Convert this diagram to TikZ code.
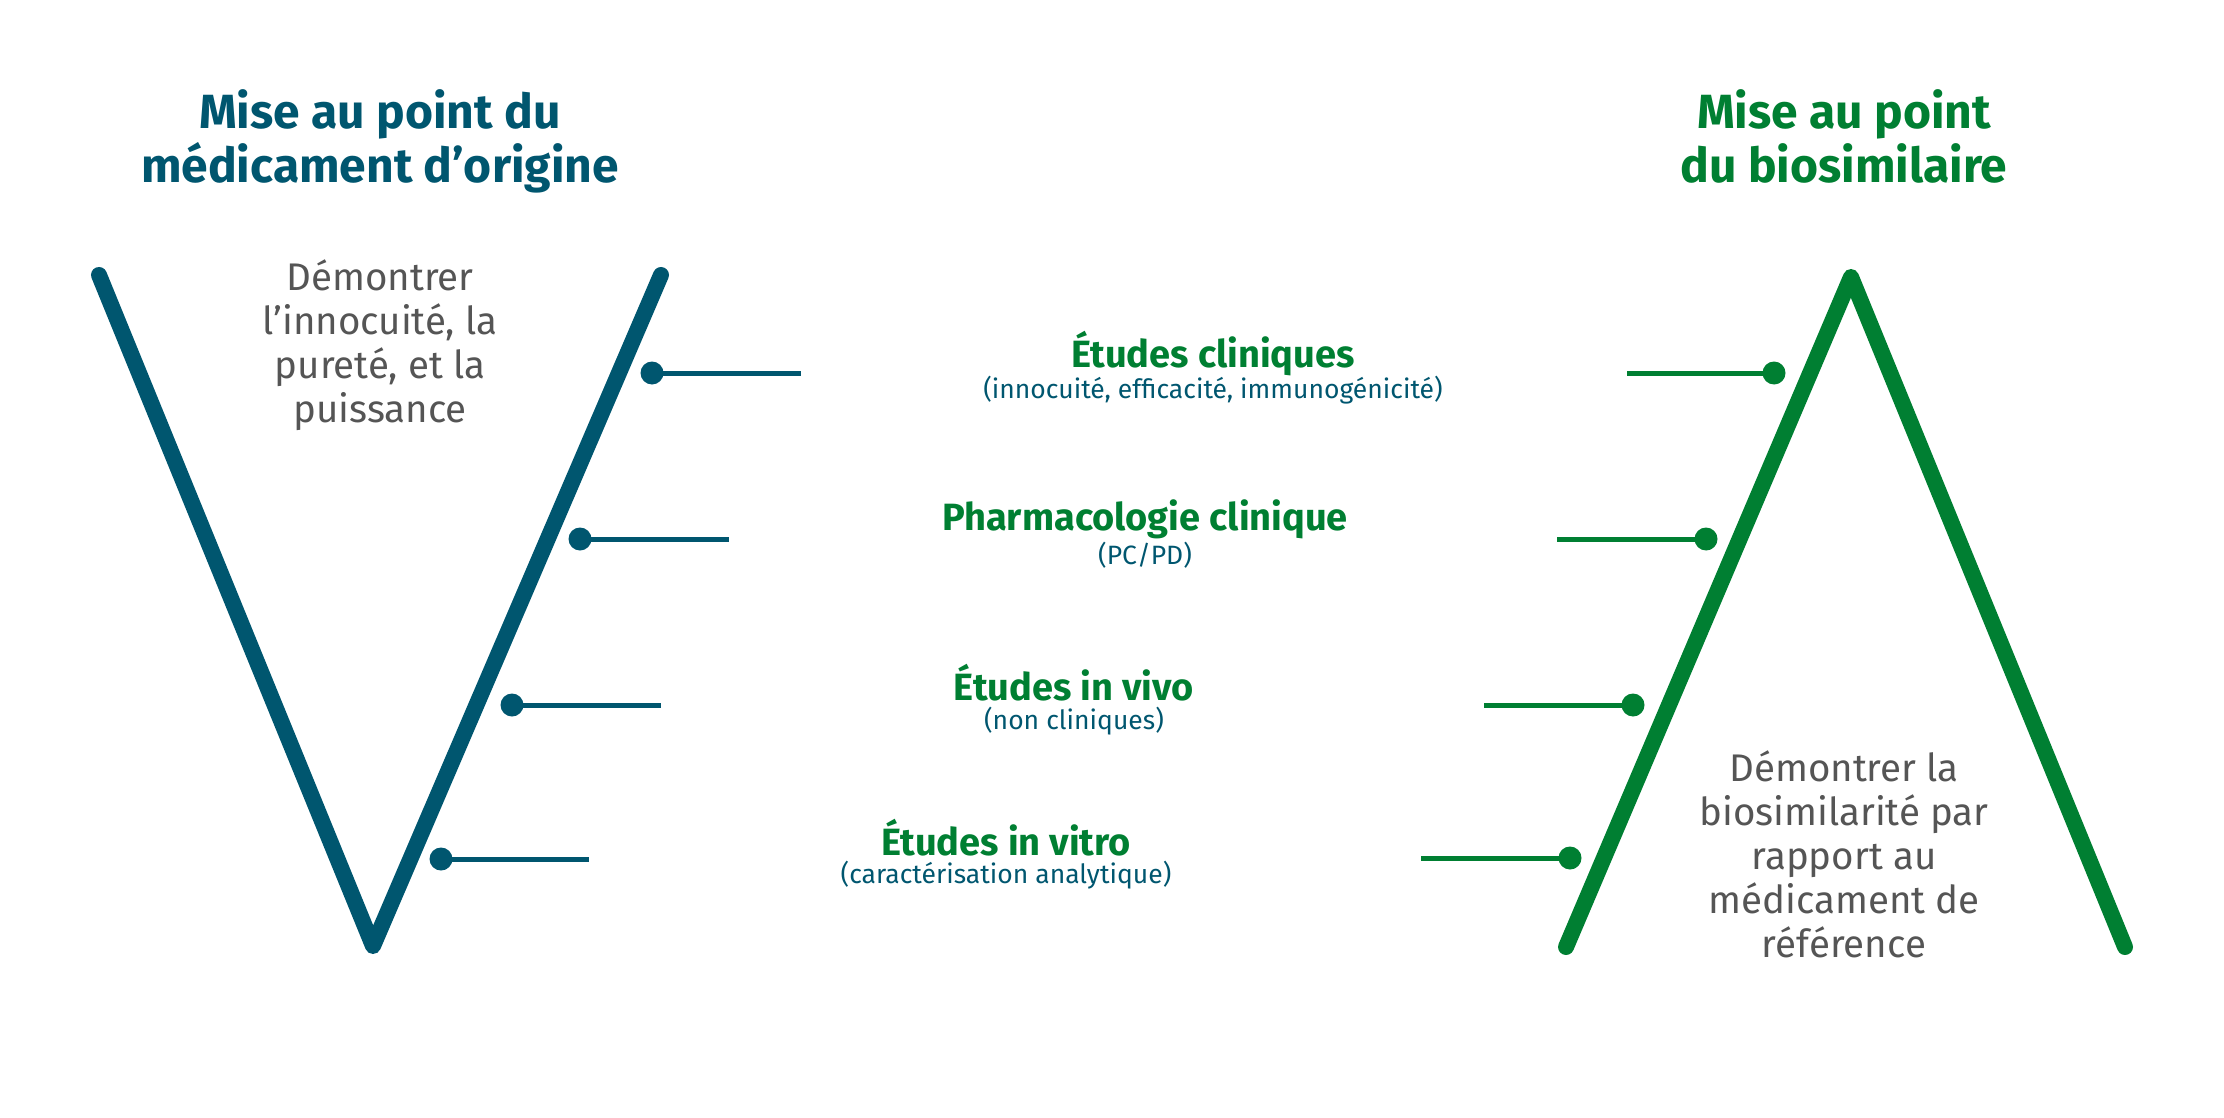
\documentclass[tikz,border=0pt]{standalone}
\usepackage{fontspec}
\setmainfont{Fira Sans}
\definecolor{vblue}{HTML}{00566F}
\definecolor{vgreen}{HTML}{007F32}
\definecolor{vgray}{HTML}{555555}
\tikzset{
  arm/.style={line width=16pt, line cap=round, line join=round},
  conn/.style={line width=5pt},
  dotnode/.style={circle, fill, inner sep=0pt, minimum size=23pt},
  title/.style={align=center, font=\fontsize{48}{54}\selectfont\bfseries},
  graytext/.style={align=center, text=vgray, font=\fontsize{38.5}{44}\selectfont},
  head/.style={text=vgreen, font=\fontsize{38}{40}\selectfont\bfseries},
  sub/.style={text=vblue, font=\fontsize{26.5}{30}\selectfont},
}
\begin{document}
\begin{tikzpicture}[x=1pt,y=-1pt]
\useasboundingbox (0,0) rectangle (2224,1118);
% titles
\node[title, text=vblue] (t1) at (380,141) {Mise au point du\\médicament d’origine};
\node[title, text=vgreen] (t2) at (1844,136) {Mise au point\\du biosimilaire};
% gray texts
\node[graytext] (g1) at (380,345) {Démontrer\\l’innocuité, la\\pureté, et la\\puissance};
\node[graytext] (g2) at (1844,854) {Démontrer la\\biosimilarité par\\rapport au\\médicament de\\référence};
% V
\coordinate (v1) at (99,275);
\coordinate (v2) at (373,946);
\coordinate (v3) at (661,275);
\draw[arm, vblue] (v1) -- (v2) -- (v3);
% Lambda
\coordinate (w1) at (1566,947);
\coordinate (w2) at (1851,277);
\coordinate (w3) at (2125,947);
\draw[arm, vgreen] (w1) -- (w2) -- (w3);
% left dots and connectors
\node[dotnode, vblue] (a1) at (652,373) {};
\node[dotnode, vblue] (a2) at (580,539) {};
\node[dotnode, vblue] (a3) at (512,705) {};
\node[dotnode, vblue] (a4) at (441,859) {};
\coordinate (ae1) at (801,373);
\coordinate (ae2) at (729,539);
\coordinate (ae3) at (661,705);
\coordinate (ae4) at (589,859);
\foreach \i in {1,...,4} \draw[conn, vblue] (a\i.center) -- (ae\i);
% right dots and connectors
\node[dotnode, vgreen] (b1) at (1774,373) {};
\node[dotnode, vgreen] (b2) at (1706,539) {};
\node[dotnode, vgreen] (b3) at (1633,705) {};
\node[dotnode, vgreen] (b4) at (1570,858) {};
\coordinate (be1) at (1627,373);
\coordinate (be2) at (1557,539);
\coordinate (be3) at (1484,705);
\coordinate (be4) at (1421,858);
\foreach \i in {1,...,4} \draw[conn, vgreen] (b\i.center) -- (be\i);
% middle labels
\node[head] (h1) at (1213,354) {Études cliniques};
\node[sub] (s1) at (1213,390) {(innocuité, efficacité, immunogénicité)};
\node[head] (h2) at (1145,519) {Pharmacologie clinique};
\node[sub] (s2) at (1145,555) {(PC/PD)};
\node[head] (h3) at (1074,683) {Études in vivo};
\node[sub] (s3) at (1074,721) {(non cliniques)};
\node[head] (h4) at (1006,838) {Études in vitro};
\node[sub] (s4) at (1006,875) {(caractérisation analytique)};
\end{tikzpicture}
\end{document}
